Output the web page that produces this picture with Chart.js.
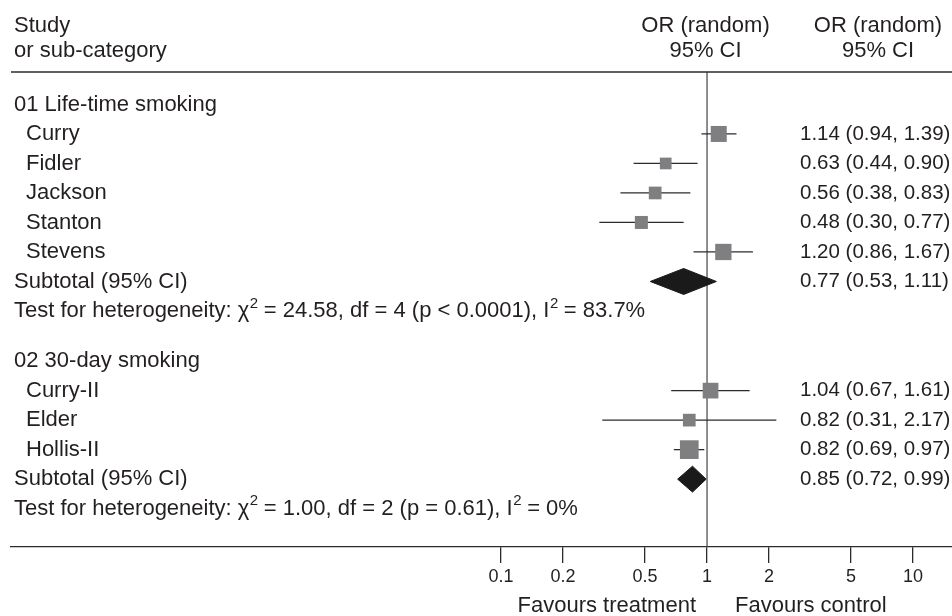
<!DOCTYPE html>
<html>
<head>
<meta charset="utf-8">
<script src="https://cdn.jsdelivr.net/npm/chart.js@4"></script>
<style>
  html, body { margin: 0; padding: 0; background: #fff; }
  canvas { display: block; }
</style>
</head>
<body>
<canvas id="forest" width="952" height="616"></canvas>
<script>
// Data
const GROUPS = ['01 Life-time smoking', '02 30-day smoking']
const STUDIES = ['Curry', 'Fidler', 'Jackson', 'Stanton', 'Stevens', 'Curry-II', 'Elder', 'Hollis-II']
const STUDY_GROUP = [0, 0, 0, 0, 0, 1, 1, 1]
const OR = [1.14, 0.63, 0.56, 0.48, 1.20, 1.04, 0.82, 0.82]
const CI_LOW = [0.94, 0.44, 0.38, 0.30, 0.86, 0.67, 0.31, 0.69]
const CI_HIGH = [1.39, 0.90, 0.83, 0.77, 1.67, 1.61, 2.17, 0.97]
const SUBTOTAL_OR = [0.77, 0.85]
const SUBTOTAL_LOW = [0.53, 0.72]
const SUBTOTAL_HIGH = [1.11, 0.99]
// heterogeneity lines, "^2" marks a superscript
const HETEROGENEITY = [
    'Test for heterogeneity: \u03c7^2 = 24.58, df = 4 (p < 0.0001), I^2 = 83.7%',
    'Test for heterogeneity: \u03c7^2 = 1.00, df = 2 (p = 0.61), I^2 = 0%'
]
const X_TICKS = [0.1, 0.2, 0.5, 1, 2, 5, 10]

// styling (box side in px, per study)
const BOX_SIDE = [16, 11.7, 12.7, 13, 16.3, 15.7, 12.7, 18.7]
const FONT = "'Liberation Sans', Arial, sans-serif"
const TEXT = '#231f20'
const LINE = '#2b2b2b'
const Y_MAX = 16.1

// row layout: header, studies, subtotal, heterogeneity test
const groupStart = [1.1, 9.8]
const rows = []
GROUPS.forEach((g, gi) => {
    let r = groupStart[gi]
    rows.push({ kind: 'group', y: r, text: g })
    STUDIES.forEach((s, i) => {
        if (STUDY_GROUP[i] !== gi) return
        r += 1
        rows.push({ kind: 'study', y: r, i: i })
    })
    r += 1
    rows.push({ kind: 'subtotal', y: r, g: gi })
    r += 1
    rows.push({ kind: 'test', y: r, g: gi })
})
const rowOf = (kind, key) => rows.find(r => r.kind === kind && (kind === 'study' ? r.i === key : r.g === key)).y

const fmt = (o, l, h) => `${o.toFixed(2)} (${l.toFixed(2)}, ${h.toFixed(2)})`

// datasets
const datasets = []

datasets.push({
    label: 'OR',
    data: STUDIES.map((s, i) => ({ x: OR[i], y: rowOf('study', i) })),
    pointStyle: 'rect',
    pointRadius: BOX_SIDE.map(s => s / Math.SQRT2),
    backgroundColor: '#7f7f82',
    borderWidth: 0,
    order: 0
})

SUBTOTAL_OR.forEach((o, g) => {
    const y = rowOf('subtotal', g)
    const h = 0.44
    datasets.push({
        label: 'Subtotal ' + g,
        data: [
            { x: SUBTOTAL_LOW[g], y: y },
            { x: o, y: y - h },
            { x: SUBTOTAL_HIGH[g], y: y },
            { x: o, y: y + h },
            { x: SUBTOTAL_LOW[g], y: y }
        ],
        showLine: true,
        fill: 'shape',
        backgroundColor: '#1a1a1a',
        borderColor: '#1a1a1a',
        borderWidth: 1,
        pointRadius: 0,
        tension: 0,
        order: 0
    })
})

STUDIES.forEach((s, i) => {
    datasets.push({
        label: 'CI ' + s,
        data: [{ x: CI_LOW[i], y: rowOf('study', i) }, { x: CI_HIGH[i], y: rowOf('study', i) }],
        showLine: true,
        borderColor: LINE,
        borderWidth: 1.3,
        pointRadius: 0,
        order: 1
    })
})

// line of no effect
datasets.push({
    label: 'no effect',
    data: [{ x: 1, y: 0 }, { x: 1, y: Y_MAX }],
    showLine: true,
    borderColor: '#444',
    borderWidth: 1.2,
    pointRadius: 0,
    order: 2
})

// text with "^2" superscripts
function fillSup(ctx, str, x, y, size) {
    const parts = str.split('^2')
    parts.forEach((p, k) => {
        ctx.font = `${size}px ${FONT}`
        ctx.fillText(p, x, y)
        x += ctx.measureText(p).width
        if (k < parts.length - 1) {
            ctx.font = `15px ${FONT}`
            ctx.fillText('2', x + 0.5, y - 7.5)
            x += ctx.measureText('2').width
        }
    })
}

// all the text columns, drawn against the chart's scales
const forestText = {
    id: 'forestText',
    afterDraw(chart) {
        const { ctx, scales: { x, y }, chartArea } = chart
        const x1 = x.getPixelForValue(1)
        ctx.save()
        ctx.fillStyle = TEXT
        ctx.textBaseline = 'middle'
        const big = `22px ${FONT}`
        const num = `20.5px ${FONT}`
        ctx.font = big

        // header
        ctx.textAlign = 'left'
        ctx.fillText('Study', 14, 26)
        ctx.fillText('or sub-category', 14, 51)
        ctx.textAlign = 'center'
        ctx.fillText('OR (random)', x1 - 1.5, 26)
        ctx.fillText('95% CI', x1 - 1.5, 51)
        ctx.fillText('OR (random)', 878, 26)
        ctx.fillText('95% CI', 878, 51)

        // top rule
        ctx.strokeStyle = LINE
        ctx.lineWidth = 1.3
        ctx.beginPath()
        ctx.moveTo(chartArea.left, y.getPixelForValue(0))
        ctx.lineTo(chartArea.right, y.getPixelForValue(0))
        ctx.stroke()

        rows.forEach(r => {
            const py = y.getPixelForValue(r.y)
            ctx.textAlign = 'left'
            ctx.font = big
            if (r.kind === 'group') {
                ctx.fillText(r.text, 14, py)
            } else if (r.kind === 'study') {
                ctx.fillText(STUDIES[r.i], 26, py)
                ctx.font = num
                ctx.fillText(fmt(OR[r.i], CI_LOW[r.i], CI_HIGH[r.i]), 800, py)
            } else if (r.kind === 'subtotal') {
                ctx.fillText('Subtotal (95% CI)', 14, py)
                ctx.font = num
                ctx.fillText(fmt(SUBTOTAL_OR[r.g], SUBTOTAL_LOW[r.g], SUBTOTAL_HIGH[r.g]), 800, py)
            } else {
                fillSup(ctx, HETEROGENEITY[r.g], 14, py, 22)
            }
        })

        // favours labels under the axis
        ctx.font = big
        ctx.textAlign = 'right'
        ctx.fillText('Favours treatment', x1 - 11, 606)
        ctx.textAlign = 'left'
        ctx.fillText('Favours control', x1 + 28, 606)
        ctx.restore()
    }
}

const ctx = document.getElementById('forest').getContext('2d')
new Chart(ctx, {
    type: 'scatter',
    data: { datasets: datasets },
    options: {
        responsive: false,
        animation: false,
        devicePixelRatio: 1,
        layout: { autoPadding: false, padding: { left: 11, right: 0, top: 72, bottom: 0 } },
        plugins: {
            legend: { display: false },
            tooltip: { enabled: false }
        },
        scales: {
            x: {
                type: 'logarithmic',
                min: 0.000418,
                max: 15.46,
                afterBuildTicks: (scale) => {
                    scale.ticks = X_TICKS.map(v => ({ value: v }))
                },
                afterFit: (scale) => {
                    scale.height = 69
                    scale.paddingLeft = 0
                    scale.paddingRight = 0
                },
                grid: {
                    drawOnChartArea: false,
                    tickLength: 16,
                    color: LINE,
                    lineWidth: 1.3
                },
                border: { display: true, color: LINE, width: 1.3 },
                ticks: {
                    callback: (v) => String(v),
                    autoSkip: false,
                    maxRotation: 0,
                    padding: 3,
                    color: TEXT,
                    font: { family: FONT, size: 18 }
                }
            },
            y: {
                type: 'linear',
                min: 0,
                max: Y_MAX,
                reverse: true,
                display: false
            }
        }
    },
    plugins: [forestText]
})
</script>
</body>
</html>
